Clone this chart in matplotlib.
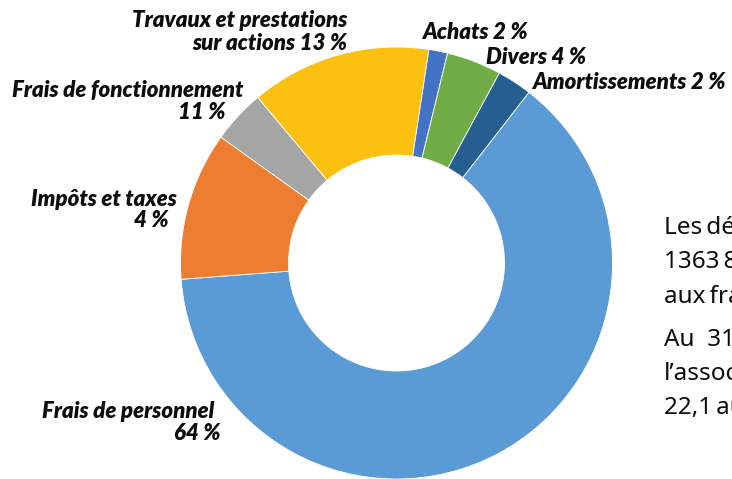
import matplotlib.pyplot as plt

# slice shares, clockwise from the top-right
categories = ['Frais de personnel', 'Impôts et taxes', 'Frais de fonctionnement',
              'Travaux et prestations sur actions', 'Achats', 'Divers', 'Amortissements']
shares = [63.3, 11.1, 4.0, 13.5, 1.4, 4.1, 2.6]
colors = ['#5B9BD5', '#ED7D31', '#A5A5A5', '#FCC010', '#4472C4', '#70AD47', '#255E91']

# label lines as printed on the chart
label_lines = [
    ('Travaux et prestations', 347, 20, 'right'),
    ('sur actions 13 %', 347, 43, 'right'),
    ('Frais de fonctionnement', 243, 90, 'right'),
    ('11 %', 226, 112, 'right'),
    ('Impôts et taxes', 177, 199, 'right'),
    ('4 %', 169, 220, 'right'),
    ('Frais de personnel', 214, 412, 'right'),
    ('64 %', 221, 433, 'right'),
    ('Achats 2 %', 422, 32, 'left'),
    ('Divers 4 %', 486, 57, 'left'),
    ('Amortissements 2 %', 532, 82, 'left'),
]

side_text = ['Les\u2009dé', '1363\u20098', 'aux\u2009fra', 'Au  31', 'l\u2019assoc', '22,1\u2009au']
side_y = [228, 262, 297, 340, 374, 408]

W, H = 732, 479
fig = plt.figure(figsize=(W / 100, H / 100), dpi=100)
ax = fig.add_axes([0, 0, 1, 1])

ax.pie(shares, colors=colors, startangle=52.2, counterclock=False,
       center=(396.5, H - 263), radius=216,
       wedgeprops=dict(width=108, edgecolor='white', linewidth=0.6))

for txt, x, y, ha in label_lines:
    ax.text(x, H - y, txt, ha=ha, va='center', fontsize=16,
            family='Lato', style='italic', weight='heavy', color='#0d0d0d')

for txt, y in zip(side_text, side_y):
    ax.text(664, H - y, txt, ha='left', va='center', fontsize=17.5,
            family=['Noto Sans', 'DejaVu Sans'], color='#0d0d0d')

ax.set_xlim(0, W)
ax.set_ylim(0, H)
ax.set_aspect('equal')
ax.axis('off')

fig.savefig('out.png', dpi=100)
